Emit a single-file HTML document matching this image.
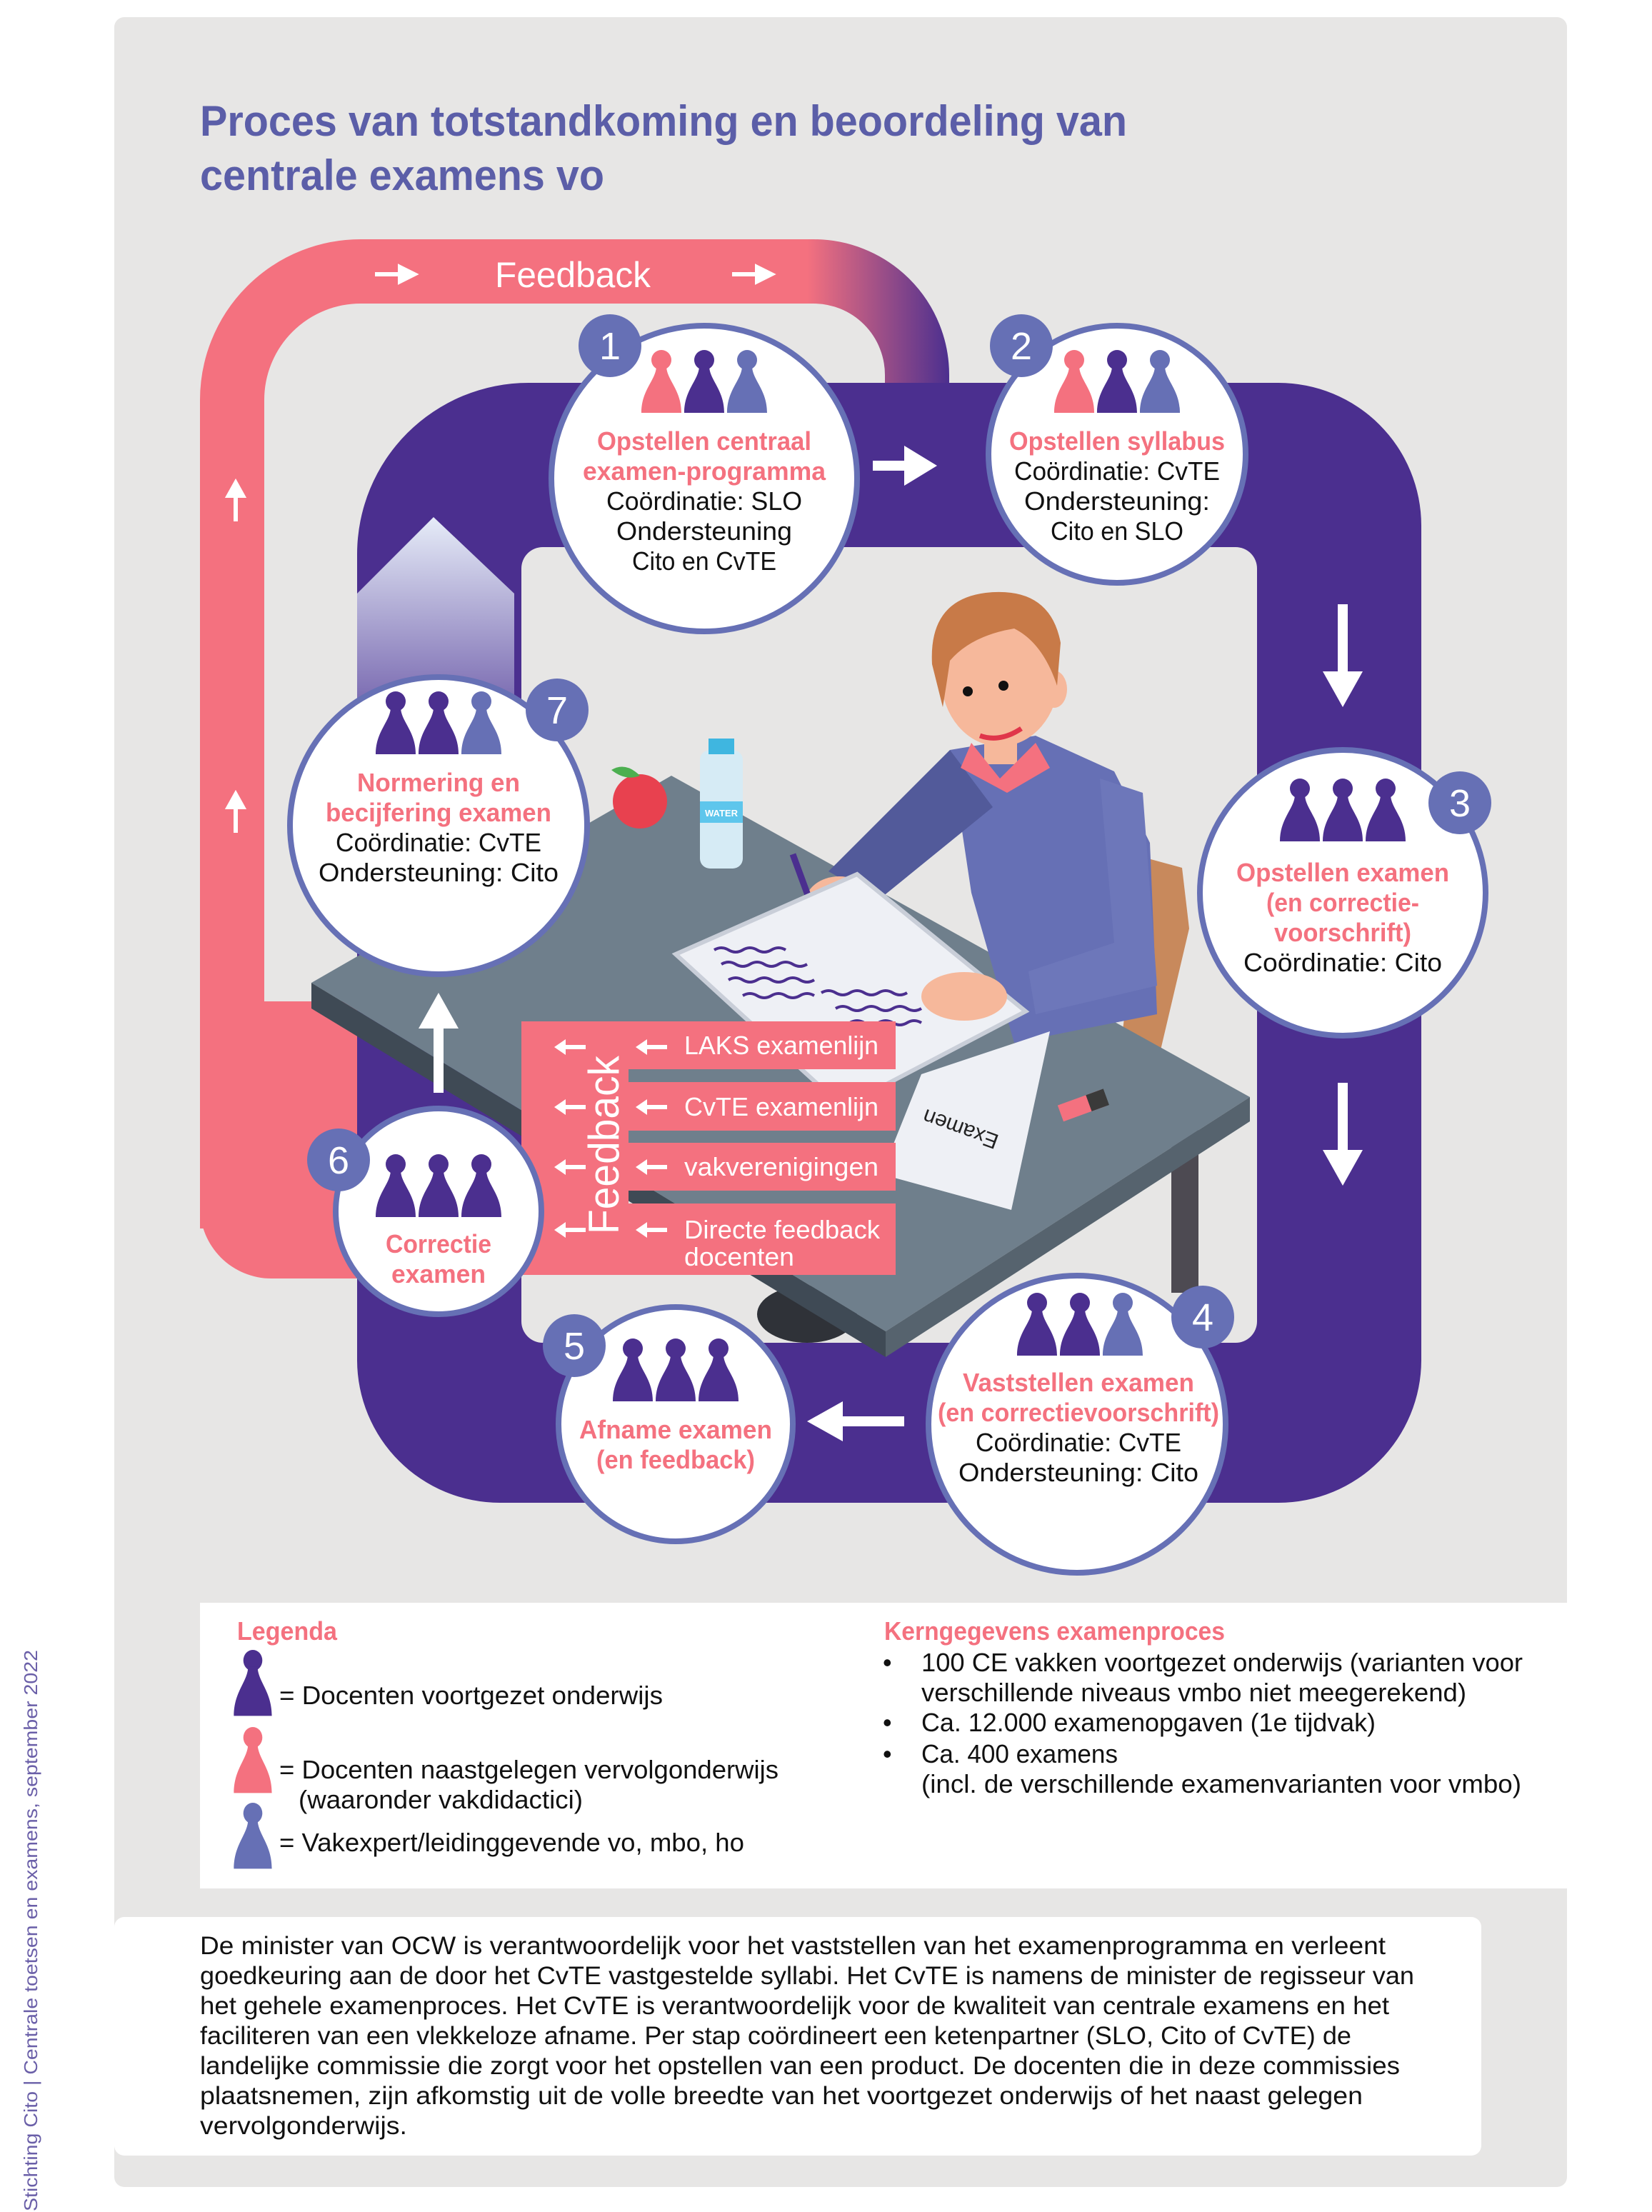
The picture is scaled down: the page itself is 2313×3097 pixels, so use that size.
<!DOCTYPE html>
<html><head><meta charset="utf-8"><style>
html,body{margin:0;padding:0;background:#fff}
svg{display:block}
text{font-family:"Liberation Sans",sans-serif}
</style></head><body>
<svg width="2313" height="3097" viewBox="0 0 2313 3097" xmlns="http://www.w3.org/2000/svg">
<defs>
<g id="pw"><circle cx="0" cy="14" r="14"/><path d="M-7,22 C-7,42 -28,55 -28,88 L28,88 C28,55 7,42 7,22 Z"/></g>
<g id="la"><rect x="14" y="-3" width="30" height="6"/><polygon points="0,0 16,-11 16,11"/></g>
<linearGradient id="pg" gradientUnits="userSpaceOnUse" x1="1130" y1="0" x2="1330" y2="0">
<stop offset="0" stop-color="#f4717f"/><stop offset="1" stop-color="#4b2f8f"/></linearGradient>
<linearGradient id="ug" x1="0" y1="0" x2="0" y2="1">
<stop offset="0" stop-color="#e6ecf8"/><stop offset="1" stop-color="#7463ad"/></linearGradient>
</defs>
<rect x="0" y="0" width="2313" height="3097" fill="#fff"/>
<rect x="160" y="24" width="2034" height="3038" rx="14" fill="#e7e6e5"/>
<text transform="translate(52,3096) rotate(-90)" font-size="26" fill="#6a5fa8" textLength="786" lengthAdjust="spacingAndGlyphs">Stichting Cito | Centrale toetsen en examens, september 2022</text>
<text x="280" y="190" font-size="60" font-weight="bold" fill="#5b5ea8" textLength="1298" lengthAdjust="spacingAndGlyphs">Proces van totstandkoming en beoordeling van</text>
<text x="280" y="266" font-size="60" font-weight="bold" fill="#5b5ea8" textLength="566" lengthAdjust="spacingAndGlyphs">centrale examens vo</text>

<path d="M325 1720 L325 560 A180 180 0 0 1 505 380 L1139 380 A145 145 0 0 1 1284 525 L1284 600" fill="none" stroke="url(#pg)" stroke-width="90"/>
<path d="M280 1402 L510 1402 L510 1790 L380 1790 A100 100 0 0 1 280 1690 Z" fill="#f4717f"/>
<g stroke="#fff" stroke-width="6" fill="#fff">
<line x1="330" y1="730" x2="330" y2="690"/><path d="M320 694 L330 676 L340 694 Z"/>
<line x1="330" y1="1166" x2="330" y2="1126"/><path d="M320 1130 L330 1112 L340 1130 Z"/>
<line x1="525" y1="384" x2="565" y2="384"/><path d="M560 374 L580 384 L560 394 Z"/>
<line x1="1025" y1="384" x2="1065" y2="384"/><path d="M1060 374 L1080 384 L1060 394 Z"/>
</g>
<text x="802" y="402" font-size="50" fill="#fff" text-anchor="middle" textLength="218" lengthAdjust="spacingAndGlyphs">Feedback</text>

<path fill-rule="evenodd" fill="#4b2f8f" d="M740 536 L1790 536 A200 200 0 0 1 1990 736 L1990 1904 A200 200 0 0 1 1790 2104 L700 2104 A200 200 0 0 1 500 1904 L500 776 A240 240 0 0 1 740 536 Z
M760 766 L1730 766 A30 30 0 0 1 1760 796 L1760 1850 A30 30 0 0 1 1730 1880 L760 1880 A30 30 0 0 1 730 1850 L730 796 A30 30 0 0 1 760 766 Z"/>
<polygon points="500,831 607,724 720,831 720,1000 500,1000" fill="url(#ug)"/>

<polygon points="1600,1200 1655,1215 1665,1300 1625,1470 1570,1460" fill="#c8895c"/>
<rect x="1640" y="1570" width="38" height="240" fill="#4d4a52"/>
<ellipse cx="1130" cy="1840" rx="70" ry="40" fill="#2f3238"/>
<polygon points="436,1376 940,1086 1750,1536 1240,1864" fill="#6f7f8c"/>
<polygon points="436,1376 1240,1864 1240,1900 436,1412" fill="#3f4a55"/>
<polygon points="1240,1864 1750,1536 1750,1570 1240,1900" fill="#56636e"/>
<circle cx="896" cy="1122" r="38" fill="#e8414f"/>
<path d="M896 1086 q-20 -20 -40 -8 q20 16 40 8z" fill="#4caf50"/>
<rect x="980" y="1050" width="60" height="166" rx="14" fill="#d6ebf5"/>
<rect x="992" y="1034" width="36" height="22" fill="#3fb6e0"/>
<rect x="980" y="1122" width="60" height="30" fill="#5ec6ec"/>
<text x="1010" y="1143" font-size="13" font-weight="bold" fill="#fff" text-anchor="middle">WATER</text>
<polygon points="1330,1050 1450,1030 1560,1080 1610,1180 1620,1420 1420,1460 1360,1250" fill="#6670b5"/>
<polygon points="1330,1050 1390,1130 1230,1260 1160,1220" fill="#525a9a"/>
<polygon points="1540,1090 1600,1110 1620,1380 1450,1420 1440,1360 1560,1320" fill="#6d77ba"/>
<ellipse cx="1175" cy="1265" rx="48" ry="38" fill="#f6b89b"/>
<line x1="1110" y1="1196" x2="1160" y2="1332" stroke="#4b2f8f" stroke-width="9"/>
<rect x="1378" y="1010" width="46" height="60" fill="#f6b89b"/>
<polygon points="1360,1040 1400,1090 1450,1040 1470,1075 1410,1110 1345,1075" fill="#f4717f"/>
<ellipse cx="1400" cy="950" rx="82" ry="95" fill="#f6b89b"/>
<ellipse cx="1476" cy="965" rx="18" ry="26" fill="#f6b89b"/>
<path d="M1305 930 Q1300 840 1380 830 Q1470 820 1485 900 L1480 960 Q1460 900 1420 880 Q1360 890 1330 925 Q1325 960 1320 990 Z" fill="#c87a48"/>
<circle cx="1355" cy="968" r="7" fill="#111"/><circle cx="1405" cy="960" r="7" fill="#111"/>
<path d="M1372 1030 Q1400 1040 1430 1020" stroke="#e0354a" stroke-width="7" fill="none"/>
<polygon points="946,1336 1200,1224 1436,1416 1180,1550" fill="#eef0f5" stroke="#c9ced8" stroke-width="6"/>
<g stroke="#4b2f8f" stroke-width="4" fill="none">
<path d="M1000 1330 q10 -6 20 0 t20 0 t20 0 t20 0 t20 0"/>
<path d="M1010 1350 q10 -6 20 0 t20 0 t20 0 t20 0 t20 0 t20 0"/>
<path d="M1020 1372 q10 -6 20 0 t20 0 t20 0 t20 0 t20 0 t20 0"/>
<path d="M1040 1394 q10 -6 20 0 t20 0 t20 0 t20 0 t20 0"/>
<path d="M1150 1390 q10 -6 20 0 t20 0 t20 0 t20 0 t20 0 t20 0"/>
<path d="M1170 1412 q10 -6 20 0 t20 0 t20 0 t20 0 t20 0 t20 0"/>
<path d="M1190 1432 q10 -6 20 0 t20 0 t20 0 t20 0 t20 0"/>
</g>
<ellipse cx="1350" cy="1395" rx="60" ry="34" fill="#f6b89b"/>
<polygon points="1290,1504 1470,1444 1416,1694 1234,1644" fill="#eef0f5"/>
<text transform="translate(1400,1590) rotate(200)" font-size="30" fill="#222">Examen</text>
<g transform="translate(1515,1548) rotate(-20)"><rect x="-32" y="-12" width="64" height="24" fill="#f4717f"/><rect x="10" y="-12" width="26" height="24" fill="#3a3a3a"/></g>

<rect x="730" y="1430" width="150" height="355" fill="#f4717f"/>
<rect x="878" y="1430" width="376" height="67" fill="#f4717f"/>
<rect x="878" y="1515" width="376" height="68" fill="#f4717f"/>
<rect x="878" y="1600" width="376" height="67" fill="#f4717f"/>
<rect x="878" y="1685" width="376" height="100" fill="#f4717f"/>
<text transform="translate(866,1728) rotate(-90)" font-size="60" fill="#fff" textLength="250" lengthAdjust="spacingAndGlyphs">Feedback</text>
<g fill="#fff">
<use href="#la" x="776" y="1466"/><use href="#la" x="890" y="1466"/>
<use href="#la" x="776" y="1550"/><use href="#la" x="890" y="1550"/>
<use href="#la" x="776" y="1634"/><use href="#la" x="890" y="1634"/>
<use href="#la" x="776" y="1722"/><use href="#la" x="890" y="1722"/>
</g>
<g fill="#fff" font-size="36">
<text x="958" y="1476" textLength="272" lengthAdjust="spacingAndGlyphs">LAKS examenlijn</text>
<text x="958" y="1562" textLength="272" lengthAdjust="spacingAndGlyphs">CvTE examenlijn</text>
<text x="958" y="1646" textLength="272" lengthAdjust="spacingAndGlyphs">vakverenigingen</text>
<text x="958" y="1734" textLength="274" lengthAdjust="spacingAndGlyphs">Directe feedback</text>
<text x="958" y="1772" textLength="154" lengthAdjust="spacingAndGlyphs">docenten</text>
</g>

<g fill="#fff">
<rect x="1222" y="645" width="50" height="14"/><polygon points="1266,624 1312,652 1266,680"/>
<rect x="1873" y="846" width="14" height="100"/><polygon points="1852,940 1880,990 1908,940"/>
<rect x="1873" y="1516" width="14" height="100"/><polygon points="1852,1610 1880,1660 1908,1610"/>
<rect x="1176" y="1983" width="90" height="14"/><polygon points="1180,1962 1130,1990 1180,2018"/>
<rect x="607" y="1434" width="14" height="96"/><polygon points="586,1440 614,1390 642,1440"/>
</g>

<g fill="#fff" stroke="#6670b5" stroke-width="8">
<circle cx="986" cy="670" r="214"/>
<circle cx="1564" cy="636" r="180"/>
<circle cx="1880" cy="1250" r="200"/>
<circle cx="1508" cy="1994" r="208"/>
<circle cx="946" cy="1994" r="164"/>
<circle cx="614" cy="1696" r="144"/>
<circle cx="614" cy="1156" r="208"/>
</g>
<g fill="#6670b5">
<circle cx="854" cy="484" r="44"/><circle cx="1430" cy="484" r="44"/><circle cx="2044" cy="1124" r="44"/>
<circle cx="1684" cy="1844" r="44"/><circle cx="804" cy="1884" r="44"/><circle cx="474" cy="1624" r="44"/><circle cx="780" cy="994" r="44"/>
</g>
<g fill="#fff" font-size="54" text-anchor="middle">
<text x="854" y="503">1</text><text x="1430" y="503">2</text><text x="2044" y="1143">3</text>
<text x="1684" y="1863">4</text><text x="804" y="1903">5</text><text x="474" y="1643">6</text><text x="780" y="1013">7</text>
</g>
<use href="#pw" x="926" y="490" fill="#f4717f"/><use href="#pw" x="986" y="490" fill="#4b2f8f"/><use href="#pw" x="1046" y="490" fill="#6670b5"/>
<use href="#pw" x="1504" y="490" fill="#f4717f"/><use href="#pw" x="1564" y="490" fill="#4b2f8f"/><use href="#pw" x="1624" y="490" fill="#6670b5"/>
<use href="#pw" x="1820" y="1090" fill="#4b2f8f"/><use href="#pw" x="1880" y="1090" fill="#4b2f8f"/><use href="#pw" x="1940" y="1090" fill="#4b2f8f"/>
<use href="#pw" x="1452" y="1810" fill="#4b2f8f"/><use href="#pw" x="1512" y="1810" fill="#4b2f8f"/><use href="#pw" x="1572" y="1810" fill="#6670b5"/>
<use href="#pw" x="886" y="1874" fill="#4b2f8f"/><use href="#pw" x="946" y="1874" fill="#4b2f8f"/><use href="#pw" x="1006" y="1874" fill="#4b2f8f"/>
<use href="#pw" x="554" y="1616" fill="#4b2f8f"/><use href="#pw" x="614" y="1616" fill="#4b2f8f"/><use href="#pw" x="674" y="1616" fill="#4b2f8f"/>
<use href="#pw" x="554" y="968" fill="#4b2f8f"/><use href="#pw" x="614" y="968" fill="#4b2f8f"/><use href="#pw" x="674" y="968" fill="#6670b5"/>

<g font-size="36" text-anchor="middle">
<g fill="#f4717f" font-weight="bold">
<text x="986" y="630" textLength="300" lengthAdjust="spacingAndGlyphs">Opstellen centraal</text>
<text x="986" y="672" textLength="340" lengthAdjust="spacingAndGlyphs">examen-programma</text>
<text x="1564" y="630" textLength="302" lengthAdjust="spacingAndGlyphs">Opstellen syllabus</text>
<text x="1880" y="1234" textLength="298" lengthAdjust="spacingAndGlyphs">Opstellen examen</text>
<text x="1880" y="1276" textLength="214" lengthAdjust="spacingAndGlyphs">(en correctie-</text>
<text x="1880" y="1318" textLength="192" lengthAdjust="spacingAndGlyphs">voorschrift)</text>
<text x="1510" y="1948" textLength="324" lengthAdjust="spacingAndGlyphs">Vaststellen examen</text>
<text x="1510" y="1990" textLength="394" lengthAdjust="spacingAndGlyphs">(en correctievoorschrift)</text>
<text x="946" y="2014" textLength="270" lengthAdjust="spacingAndGlyphs">Afname examen</text>
<text x="946" y="2056" textLength="222" lengthAdjust="spacingAndGlyphs">(en feedback)</text>
<text x="614" y="1754" textLength="148" lengthAdjust="spacingAndGlyphs">Correctie</text>
<text x="614" y="1796" textLength="132" lengthAdjust="spacingAndGlyphs">examen</text>
<text x="614" y="1108" textLength="228" lengthAdjust="spacingAndGlyphs">Normering en</text>
<text x="614" y="1150" textLength="316" lengthAdjust="spacingAndGlyphs">becijfering examen</text>
</g>
<g fill="#111">
<text x="986" y="714" textLength="274" lengthAdjust="spacingAndGlyphs">Coördinatie: SLO</text>
<text x="986" y="756" textLength="246" lengthAdjust="spacingAndGlyphs">Ondersteuning</text>
<text x="986" y="798" textLength="202" lengthAdjust="spacingAndGlyphs">Cito en CvTE</text>
<text x="1564" y="672" textLength="288" lengthAdjust="spacingAndGlyphs">Coördinatie: CvTE</text>
<text x="1564" y="714" textLength="260" lengthAdjust="spacingAndGlyphs">Ondersteuning:</text>
<text x="1564" y="756" textLength="186" lengthAdjust="spacingAndGlyphs">Cito en SLO</text>
<text x="1880" y="1360" textLength="278" lengthAdjust="spacingAndGlyphs">Coördinatie: Cito</text>
<text x="1510" y="2032" textLength="288" lengthAdjust="spacingAndGlyphs">Coördinatie: CvTE</text>
<text x="1510" y="2074" textLength="336" lengthAdjust="spacingAndGlyphs">Ondersteuning: Cito</text>
<text x="614" y="1192" textLength="288" lengthAdjust="spacingAndGlyphs">Coördinatie: CvTE</text>
<text x="614" y="1234" textLength="336" lengthAdjust="spacingAndGlyphs">Ondersteuning: Cito</text>
</g>
</g>

<rect x="280" y="2244" width="2033" height="400" fill="#fff"/>
<text x="332" y="2296" font-size="36" font-weight="bold" fill="#f4717f" textLength="140" lengthAdjust="spacingAndGlyphs">Legenda</text>
<text x="1238" y="2296" font-size="36" font-weight="bold" fill="#f4717f" textLength="477" lengthAdjust="spacingAndGlyphs">Kerngegevens examenproces</text>
<use href="#pw" transform="translate(354,2310) scale(0.95,1.05)" fill="#4b2f8f"/>
<use href="#pw" transform="translate(354,2418) scale(0.95,1.05)" fill="#f4717f"/>
<use href="#pw" transform="translate(354,2524) scale(0.95,1.05)" fill="#6670b5"/>
<g font-size="36" fill="#111">
<text x="391" y="2386" textLength="537" lengthAdjust="spacingAndGlyphs">= Docenten voortgezet onderwijs</text>
<text x="391" y="2490" textLength="699" lengthAdjust="spacingAndGlyphs">= Docenten naastgelegen vervolgonderwijs</text>
<text x="418" y="2532" textLength="398" lengthAdjust="spacingAndGlyphs">(waaronder vakdidactici)</text>
<text x="391" y="2592" textLength="651" lengthAdjust="spacingAndGlyphs">= Vakexpert/leidinggevende vo, mbo, ho</text>
<text x="1236" y="2340">•</text><text x="1236" y="2424">•</text><text x="1236" y="2468">•</text>
<text x="1290" y="2340" textLength="842" lengthAdjust="spacingAndGlyphs">100 CE vakken voortgezet onderwijs (varianten voor</text>
<text x="1290" y="2382" textLength="763" lengthAdjust="spacingAndGlyphs">verschillende niveaus vmbo niet meegerekend)</text>
<text x="1290" y="2424" textLength="636" lengthAdjust="spacingAndGlyphs">Ca. 12.000 examenopgaven (1e tijdvak)</text>
<text x="1290" y="2468" textLength="275" lengthAdjust="spacingAndGlyphs">Ca. 400 examens</text>
<text x="1290" y="2510" textLength="840" lengthAdjust="spacingAndGlyphs">(incl. de verschillende examenvarianten voor vmbo)</text>
</g>

<rect x="160" y="2684" width="1914" height="334" rx="14" fill="#fff"/>
<g font-size="35" fill="#111">
<text x="280" y="2736" textLength="1660" lengthAdjust="spacingAndGlyphs">De minister van OCW is verantwoordelijk voor het vaststellen van het examenprogramma en verleent</text>
<text x="280" y="2778" textLength="1700" lengthAdjust="spacingAndGlyphs">goedkeuring aan de door het CvTE vastgestelde syllabi. Het CvTE is namens de minister de regisseur van</text>
<text x="280" y="2820" textLength="1665" lengthAdjust="spacingAndGlyphs">het gehele examenproces. Het CvTE is verantwoordelijk voor de kwaliteit van centrale examens en het</text>
<text x="280" y="2862" textLength="1612" lengthAdjust="spacingAndGlyphs">faciliteren van een vlekkeloze afname. Per stap coördineert een ketenpartner (SLO, Cito of CvTE) de</text>
<text x="280" y="2904" textLength="1680" lengthAdjust="spacingAndGlyphs">landelijke commissie die zorgt voor het opstellen van een product. De docenten die in deze commissies</text>
<text x="280" y="2946" textLength="1628" lengthAdjust="spacingAndGlyphs">plaatsnemen, zijn afkomstig uit de volle breedte van het voortgezet onderwijs of het naast gelegen</text>
<text x="280" y="2988" textLength="290" lengthAdjust="spacingAndGlyphs">vervolgonderwijs.</text>
</g>
</svg>
</body></html>
